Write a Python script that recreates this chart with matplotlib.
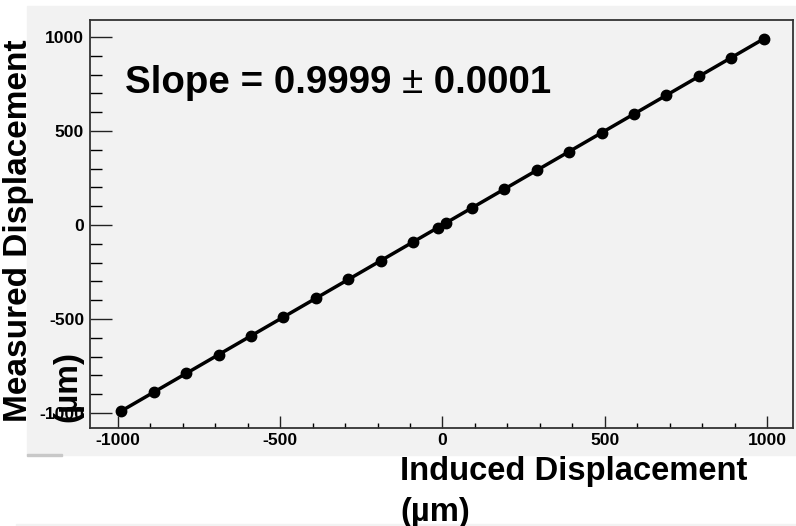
import matplotlib.pyplot as plt
from matplotlib.patches import Rectangle
from matplotlib.ticker import MultipleLocator

# induced vs measured displacement (um)
induced = [-990, -890, -790, -690, -590, -490, -390, -290, -190, -90, -15,
           12, 90, 190, 290, 390, 490, 590, 690, 790, 890, 990]
measured = [-990, -890, -790, -690, -590, -490, -390, -290, -190, -90, -15,
            12, 90, 190, 290, 390, 490, 590, 690, 790, 890, 990]
slope_txt = "0.9999"
slope_err = "0.0001"

W, H = 796, 526
plt.rcParams['font.family'] = ['Liberation Sans', 'DejaVu Sans']
plt.rcParams['axes.unicode_minus'] = False

fig = plt.figure(figsize=(W / 100, H / 100), dpi=100)
fig.patch.set_facecolor('white')

def fx(px):
    return px / W

def fy(py):
    return 1 - py / H

# grey canvas behind the plot + strip at the bottom
bg = '#f2f2f2'
fig.patches.append(Rectangle((fx(27), fy(455)), fx(796 - 27), fy(6) - fy(455),
                             transform=fig.transFigure, color=bg, zorder=-5))
fig.patches.append(Rectangle((fx(27), fy(456)), fx(35), fy(454) - fy(456),
                             transform=fig.transFigure, color='#c8c8c8', zorder=-5))
fig.patches.append(Rectangle((fx(16), 0), fx(796 - 16), fy(524),
                             transform=fig.transFigure, color=bg, zorder=-5))

ax = fig.add_axes([fx(90), fy(428), fx(793 - 90), fy(20) - fy(428)])
ax.set_zorder(2)
ax.set_facecolor(bg)
ax.plot(induced, measured, '-o', color='black', lw=2.5, ms=7.5)

ax.set_xlim(-1086, 1080)
ax.set_ylim(-1080, 1090)
for a in (ax.xaxis, ax.yaxis):
    a.set_major_locator(MultipleLocator(500))
    a.set_minor_locator(MultipleLocator(100))

ax.tick_params(axis='x', which='major', direction='in', length=8.6, width=1, pad=3.6,
               labelsize=12.6, colors='#222222')
ax.tick_params(axis='x', which='minor', direction='in', length=3.6, width=1)
ax.tick_params(axis='y', which='major', direction='in', length=16, width=1, pad=4.3,
               labelsize=12.6, colors='#222222')
ax.tick_params(axis='y', which='minor', direction='in', length=8.5, width=1)
for lab in ax.get_xticklabels() + ax.get_yticklabels():
    lab.set_fontweight('bold')
    lab.set_color('black')
for s in ax.spines.values():
    s.set_color('#333333')
    s.set_linewidth(1.3)

# slope annotation: bold numbers, plain +- sign, laid out left to right
renderer = fig.canvas.get_renderer()
x0 = 125
parts = [("Slope = " + slope_txt + " ", 'bold'), ("\u00b1", 'normal'),
         (" " + slope_err, 'bold')]
for s, w in parts:
    t = fig.text(fx(x0), fy(93), s, fontsize=27.7, fontweight=w,
                 ha='left', va='baseline', zorder=3)
    x0 += t.get_window_extent(renderer).width

fig.text(fx(400), fy(456), "Induced Displacement\n(\u00b5m)", fontsize=23.6,
         fontweight='bold', ha='left', va='top', multialignment='left',
         linespacing=1.4)
fig.text(fx(3), fy(422), "Measured Displacement\n(\u00b5m)", fontsize=24,
         fontweight='bold', rotation=90, ha='left', va='bottom',
         multialignment='left', linespacing=1.75, zorder=3)

fig.savefig('out.png', dpi=100)
